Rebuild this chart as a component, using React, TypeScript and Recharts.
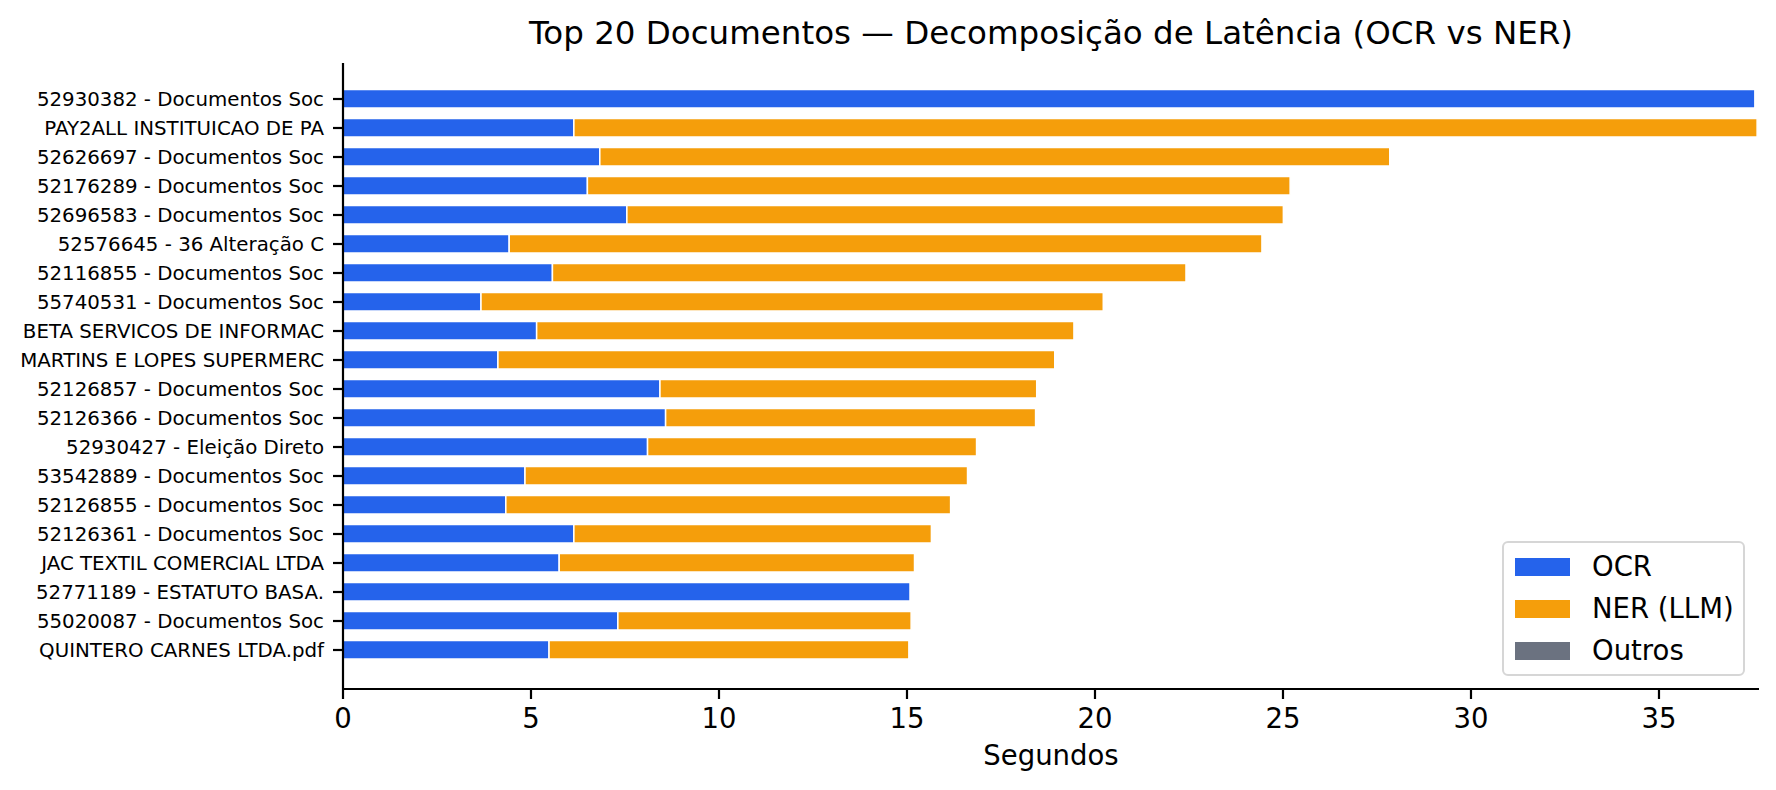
import { Bar, BarChart, Label, Legend, XAxis, YAxis } from "recharts";

document.body.style.margin = "0";

const FONT = "'DejaVu Sans', sans-serif";

// Top 20 documentos, ordem de cima para baixo
const documentos = [
  "52930382 - Documentos Soc",
  "PAY2ALL INSTITUICAO DE PA",
  "52626697 - Documentos Soc",
  "52176289 - Documentos Soc",
  "52696583 - Documentos Soc",
  "52576645 - 36 Alteração C",
  "52116855 - Documentos Soc",
  "55740531 - Documentos Soc",
  "BETA SERVICOS DE INFORMAC",
  "MARTINS E LOPES SUPERMERC",
  "52126857 - Documentos Soc",
  "52126366 - Documentos Soc",
  "52930427 - Eleição Direto",
  "53542889 - Documentos Soc",
  "52126855 - Documentos Soc",
  "52126361 - Documentos Soc",
  "JAC TEXTIL COMERCIAL LTDA",
  "52771189 - ESTATUTO BASA.",
  "55020087 - Documentos Soc",
  "QUINTERO CARNES LTDA.pdf",
];

// segundos
const ocrSeg = [
  37.55, 6.14, 6.83, 6.5, 7.55, 4.42, 5.57, 3.67, 5.15, 4.12, 8.43, 8.58, 8.1,
  4.84, 4.33, 6.14, 5.75, 15.08, 7.31, 5.48,
];
const nerSeg = [
  0, 31.47, 21.01, 18.69, 17.46, 20.02, 16.85, 16.55, 14.29, 14.81, 10.02, 9.84,
  8.75, 11.77, 11.83, 9.51, 9.45, 0, 7.8, 9.57,
];
const outrosSeg = [
  0, 0, 0, 0, 0, 0, 0, 0, 0, 0, 0, 0, 0, 0, 0, 0, 0, 0, 0, 0,
];

const xTicks = [0, 5, 10, 15, 20, 25, 30, 35];
const xMax = 37.66;

const series = [
  { key: "ocr", name: "OCR", color: "#2563eb" },
  { key: "ner", name: "NER (LLM)", color: "#f59e0b" },
  { key: "outros", name: "Outros", color: "#6b7280" },
];

const data = documentos.map((name, i) => ({
  name,
  ocr: ocrSeg[i],
  ner: nerSeg[i],
  outros: outrosSeg[i],
}));

const renderLegend = () => (
  <div
    style={{
      boxSizing: "border-box",
      width: 243,
      height: 135,
      border: "2px solid #d6d6d6",
      borderRadius: 6,
      background: "rgba(255,255,255,0.8)",
      padding: "3px 0 0 11px",
      fontFamily: FONT,
      fontSize: 27.5,
    }}
  >
    {series.map((s) => (
      <div
        key={s.key}
        style={{ display: "flex", alignItems: "center", height: 42 }}
      >
        <div
          style={{
            width: 55,
            height: 18,
            backgroundColor: s.color,
            marginRight: 22,
          }}
        />
        <span style={{ color: "#000", lineHeight: 1 }}>{s.name}</span>
      </div>
    ))}
  </div>
);

export default function App() {
  return (
    <div
      style={{
        position: "relative",
        width: 1776,
        height: 790,
        background: "#fff",
        fontFamily: FONT,
      }}
    >
      <div
        style={{
          position: "absolute",
          left: 343,
          width: 1416,
          top: 17,
          textAlign: "center",
          fontSize: 32.5,
          lineHeight: "32.5px",
          color: "#000",
          whiteSpace: "nowrap",
          zIndex: 2,
        }}
      >
        Top 20 Documentos — Decomposição de Latência (OCR vs NER)
      </div>
      <BarChart
        width={1776}
        height={790}
        data={data}
        layout="vertical"
        margin={{ top: 63, right: 17, bottom: 0, left: 0 }}
        barCategoryGap={0}
      >
        <XAxis
          type="number"
          domain={[0, xMax]}
          ticks={xTicks}
          allowDataOverflow
          height={101}
          tickSize={10}
          tickMargin={9}
          tick={{ fill: "#000", fontSize: 27.5, fontFamily: FONT }}
          axisLine={{ stroke: "#000", strokeWidth: 2.2 }}
          tickLine={{ stroke: "#000", strokeWidth: 2.2 }}
        >
          <Label
            value="Segundos"
            position="insideBottom"
            offset={25}
            style={{ fill: "#000", fontSize: 27.5, fontFamily: FONT }}
          />
        </XAxis>
        <YAxis
          type="category"
          dataKey="name"
          width={343}
          interval={0}
          padding={{ top: 21.5, bottom: 24.5 }}
          tickSize={10}
          tickMargin={9}
          tick={{ fill: "#000", fontSize: 19.8, fontFamily: FONT }}
          axisLine={{ stroke: "#000", strokeWidth: 2.2 }}
          tickLine={{ stroke: "#000", strokeWidth: 2.2 }}
        />
        <Legend
          layout="horizontal"
          verticalAlign="middle"
          align="center"
          content={renderLegend}
          wrapperStyle={{ left: 1502, top: 541, width: 243, height: 135 }}
        />
        {series.map((s) => (
          <Bar
            key={s.key}
            dataKey={s.key}
            name={s.name}
            stackId="a"
            fill={s.color}
            stroke="#ffffff"
            strokeWidth={1.5}
            barSize={18.5}
            isAnimationActive={false}
          />
        ))}
      </BarChart>
    </div>
  );
}
